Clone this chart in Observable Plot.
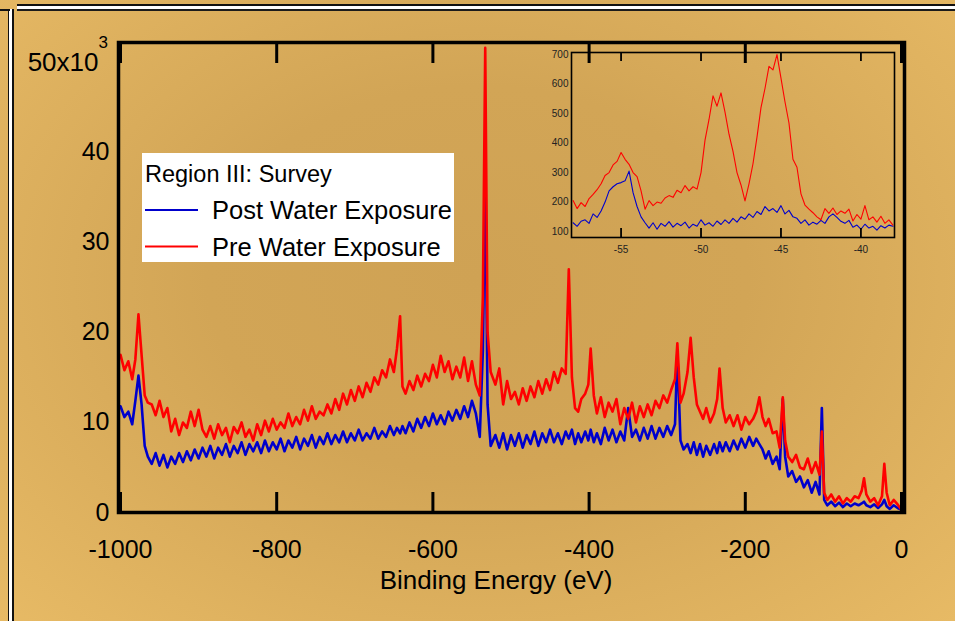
<!DOCTYPE html>
<html><head><meta charset="utf-8">
<script src="https://cdn.jsdelivr.net/npm/d3@7"></script>
<script src="https://cdn.jsdelivr.net/npm/@observablehq/plot@0.6"></script>
<style>
html,body{margin:0;padding:0;background:#d8ab5a;}
#stage{position:relative;width:955px;height:621px;overflow:hidden;
  background: radial-gradient(ellipse farthest-corner at 50% 45%, #cfa254 0%, #d2a556 40%, #e7ba65 100%);
  font-family:"Liberation Sans", Arial, sans-serif;}
#stage > svg, #stage > figure{position:absolute;left:0;top:0;margin:0;}
.topline{position:absolute;left:17px;right:0;top:4px;height:3px;background:#fff;border-top:2px solid #111;border-bottom:2px solid #1b1b1b;}
.leftline{position:absolute;left:8px;top:9px;bottom:0;width:3px;background:#fff;border-left:1.5px solid #111;border-right:2px solid #111;}
.leftcap{position:absolute;left:0;top:9px;width:10px;height:2px;background:#111;}
#legend{position:absolute;left:142px;top:153px;width:312px;height:109px;background:#fff;}
#legend svg{position:absolute;left:0;top:0;}
</style>
</head><body>
<div id="stage">
  <div class="topline"></div>
  <div class="leftline"></div>
  <div class="leftcap"></div>
</div>
<script>
// ---------- data (main survey, values in thousands of counts) ----------
const energy = [
  -1000,-995,-990,-985,-981,-977,-973,-969,-965,-960,
  -955,-950,-945,-940,-935,-930,-925,-920,-915,-910,
  -905,-900,-895,-890,-885,-880,-875,-870,-865,-860,
  -855,-850,-845,-840,-835,-830,-825,-820,-815,-810,
  -805,-800,-795,-790,-785,-780,-775,-770,-765,-760,
  -755,-750,-745,-740,-735,-730,-725,-720,-715,-710,
  -705,-700,-695,-690,-685,-680,-675,-670,-665,-660,
  -655,-650,-646,-642,-639,-635,-630,-625,-620,-615,
  -610,-605,-600,-595,-590,-585,-580,-575,-570,-565,
  -560,-555,-550,-545,-540,-536,-533,-530,-526,-520,
  -515,-510,-505,-500,-495,-490,-485,-480,-475,-470,
  -465,-460,-455,-450,-445,-440,-435,-430,-426,-422,
  -418,-414,-410,-405,-401,-398,-394,-390,-385,-380,
  -375,-370,-365,-360,-355,-350,-345,-340,-335,-330,
  -325,-320,-315,-310,-305,-300,-295,-290,-287,-283,
  -279,-274,-270,-266,-262,-258,-254,-250,-245,-240,
  -236,-233,-229,-225,-220,-215,-210,-205,-200,-195,
  -190,-186,-182,-178,-174,-170,-165,-160,-156,-152,
  -149,-145,-140,-135,-130,-125,-120,-115,-110,-105,
  -102,-99,-95,-90,-85,-80,-75,-70,-65,-60,
  -55,-51,-48,-45,-40,-35,-30,-25,-22,-19,
  -15,-10,-5,0
];
const pre = [
  17.5,15.8,16.8,14.8,17.0,22.0,17.5,13.0,12.2,12.0,
  10.8,12.4,10.6,11.6,9.0,10.4,8.6,10.0,9.4,11.2,
  9.6,11.4,9.2,8.4,9.6,8.2,9.8,8.6,9.4,7.8,
  9.5,8.8,10.0,8.4,9.2,8.0,9.8,8.6,10.2,9.0,
  10.4,9.2,10.0,9.4,11.0,9.6,10.6,9.8,11.4,10.2,
  11.8,10.4,11.2,10.8,12.0,11.0,12.6,11.4,13.2,12.0,
  13.6,12.4,14.0,12.8,14.4,13.4,15.0,14.2,15.8,15.0,
  17.0,15.6,18.2,21.8,14.0,13.2,14.6,13.6,15.2,14.0,
  15.4,14.6,16.4,15.0,17.4,15.6,16.8,14.8,16.2,15.0,
  17.2,14.6,16.8,14.2,13.0,24.0,51.6,20.0,15.6,14.2,
  16.0,12.0,14.6,12.6,13.4,12.0,13.8,12.4,14.0,12.8,
  14.6,13.2,14.8,13.6,15.6,14.4,16.0,15.4,27.0,15.0,
  11.6,11.2,12.6,13.2,14.2,18.2,13.0,11.0,12.8,10.6,
  12.2,11.2,12.6,9.8,11.6,10.4,12.2,10.0,11.8,10.6,
  12.0,10.8,12.4,11.6,13.0,12.2,13.6,14.8,18.8,12.2,
  13.2,15.6,19.4,15.0,12.0,11.2,10.4,11.6,10.0,11.0,
  12.6,16.0,11.6,10.0,10.8,9.6,10.8,9.2,10.6,9.8,
  10.4,11.2,12.8,10.6,9.6,10.4,8.8,9.0,7.2,12.8,
  8.0,6.2,5.6,6.4,5.0,4.8,6.0,4.4,5.6,4.2,
  9.0,2.2,1.4,2.0,1.2,1.8,1.0,1.6,1.2,1.8,
  1.6,2.4,3.8,2.0,1.2,1.6,0.8,1.8,5.4,2.2,
  0.8,1.4,0.9,0.3
];
const post = [
  11.8,10.6,11.2,9.8,12.4,15.2,12.0,7.4,6.2,5.4,
  6.6,5.2,6.4,5.0,6.2,5.4,6.6,5.6,6.8,5.8,
  7.0,6.0,7.2,6.2,7.4,6.0,7.2,6.4,7.6,6.2,
  7.4,6.6,7.8,6.4,7.6,6.8,7.8,6.6,8.0,6.8,
  7.8,7.0,8.2,6.8,8.0,7.2,8.4,7.0,8.2,7.4,
  8.6,7.2,8.4,7.6,8.8,7.6,8.6,7.8,9.0,7.8,
  8.8,8.0,9.2,8.0,8.8,8.2,9.4,8.2,9.0,8.4,
  9.6,8.6,9.4,8.8,9.6,8.8,10.0,9.0,10.4,9.4,
  10.6,9.6,11.0,9.8,10.8,9.8,11.2,10.2,11.4,10.4,
  11.8,10.6,12.4,11.0,8.4,18.0,38.0,12.0,7.4,8.6,
  7.2,8.8,7.0,8.6,7.4,8.8,7.2,8.6,7.6,9.0,
  7.4,8.8,7.8,9.2,7.8,8.8,7.6,9.0,8.2,9.2,
  7.6,8.8,7.8,9.0,8.0,9.2,7.8,8.8,7.6,9.4,
  8.0,9.2,7.8,9.0,8.0,11.6,8.4,9.2,8.0,9.4,
  8.2,9.6,8.2,9.4,8.4,9.6,8.6,9.8,17.8,8.0,
  7.0,7.6,6.6,7.8,6.4,7.6,6.2,7.4,6.4,7.6,
  6.6,7.8,6.8,7.8,6.8,8.0,7.0,8.2,7.2,8.4,
  7.4,8.2,7.6,7.0,6.0,6.8,5.4,6.2,4.8,12.6,
  6.2,4.0,4.6,3.4,4.0,2.8,3.6,2.2,3.4,2.0,
  11.6,1.4,0.8,1.2,0.7,1.1,0.6,1.0,0.7,1.0,
  0.8,1.0,1.2,0.8,0.6,0.9,0.5,0.9,1.4,0.7,
  0.4,0.8,0.5,0.3
];

// ---------- data (inset, counts) ----------
const insetEnergy = [
  -58,-57.75,-57.5,-57.25,-57,-56.75,-56.5,-56.25,
  -56,-55.75,-55.5,-55.25,-55,-54.75,-54.5,-54.25,
  -54,-53.75,-53.5,-53.25,-53,-52.75,-52.5,-52.25,
  -52,-51.75,-51.5,-51.25,-51,-50.75,-50.5,-50.25,
  -50,-49.75,-49.5,-49.25,-49,-48.75,-48.5,-48.25,
  -48,-47.75,-47.5,-47.25,-47,-46.75,-46.5,-46.25,
  -46,-45.75,-45.5,-45.25,-45,-44.75,-44.5,-44.25,
  -44,-43.75,-43.5,-43.25,-43,-42.75,-42.5,-42.25,
  -42,-41.75,-41.5,-41.25,-41,-40.75,-40.5,-40.25,
  -40,-39.75,-39.5,-39.25,-39,-38.75,-38.5,-38.25,
  -38
];
const insetPre = [
  205,178,198,185,212,226,242,262,
  290,300,326,338,368,345,328,300,
  286,238,176,205,188,200,196,214,
  222,216,240,232,256,238,252,244,
  300,410,480,560,525,570,505,430,
  372,300,258,204,262,330,420,520,
  585,660,648,700,620,540,468,345,
  318,228,190,176,164,150,140,178,
  162,180,158,170,162,176,136,158,
  142,188,140,150,132,152,128,140,
  122
];
const insetPost = [
  130,118,135,140,128,160,148,170,
  200,238,252,262,266,272,305,232,
  185,150,130,112,130,108,128,118,
  134,115,128,120,132,112,125,118,
  140,122,130,118,136,124,140,128,
  145,132,150,142,160,148,168,158,
  185,170,178,165,188,160,172,150,
  145,128,140,122,132,125,138,128,
  150,160,148,135,128,138,115,122,
  108,125,112,118,105,120,112,122,
  118
];

// ---------- ticks, labels, series ----------
const xTicks = [-1000, -800, -600, -400, -200, 0];
const yTicks = [0, 10, 20, 30, 40];
const yTopTick = 50;
const yTopLabel = "50x10";
const yExponent = "3";
const xLabel = "Binding Energy (eV)";
const insetXTicks = [-55, -50, -45, -40];
const insetYTicks = [100, 200, 300, 400, 500, 600, 700];
const legendTitle = "Region III: Survey";
const seriesNames = ["Post Water Exposure", "Pre Water Exposure"];
const seriesColors = ["#0000cc", "#ff0000"];

const font = "'Liberation Sans', Arial, sans-serif";
const stage = document.getElementById("stage");

const mainPlot = Plot.plot({
  width: 955, height: 621,
  marginLeft: 120, marginRight: 54, marginTop: 42, marginBottom: 109,
  x: {domain: [-1000, 0], label: null},
  y: {domain: [0, 52.2], label: null},
  style: {background: "transparent", overflow: "visible", fontFamily: font, color: "#000"},
  marks: [
    Plot.lineY(post, {x: energy, stroke: seriesColors[0], strokeWidth: 2.6, strokeLinejoin: "round"}),
    Plot.lineY(pre, {x: energy, stroke: seriesColors[1], strokeWidth: 2.6, strokeLinejoin: "round"}),
    Plot.frame({stroke: "#000", strokeWidth: 3.5, insetLeft: -2, insetRight: -3}),
    Plot.axisX(xTicks, {anchor: "bottom", tickSize: 20, dy: -20, fill: "none", strokeWidth: 3, label: null}),
    Plot.axisX(xTicks, {anchor: "top", tickSize: 20, dy: 20, fill: "none", strokeWidth: 3, label: null}),
    Plot.axisX(xTicks, {anchor: "bottom", tickSize: 0, tickPadding: 28, fontSize: 25, tickFormat: d => String(d), label: null}),
    Plot.axisY(yTicks, {anchor: "left", tickSize: 0, tickPadding: 11, fontSize: 25, tickFormat: d => String(d), label: null}),
    Plot.text([yTopTick], {y: d => d, frameAnchor: "left", text: () => yTopLabel,
      textAnchor: "end", lineAnchor: "middle", dx: -22, fontSize: 26}),
    Plot.text([yTopTick], {y: d => d, frameAnchor: "left", text: () => yExponent,
      textAnchor: "start", lineAnchor: "middle", dx: -22, dy: -20, fontSize: 17}),
    Plot.text([xLabel], {frameAnchor: "bottom", text: d => d, lineAnchor: "middle", dx: -15, dy: 68, fontSize: 26})
  ]
});
stage.appendChild(mainPlot);

const insetPlot = Plot.plot({
  width: 955, height: 621,
  marginLeft: 571, marginRight: 61, marginTop: 52, marginBottom: 384,
  x: {domain: [-58.1, -37.9], label: null},
  y: {domain: [80, 707], label: null},
  style: {background: "transparent", overflow: "visible", fontFamily: font, color: "#000"},
  marks: [
    Plot.lineY(insetPost, {x: insetEnergy, stroke: seriesColors[0], strokeWidth: 1.1}),
    Plot.lineY(insetPre, {x: insetEnergy, stroke: seriesColors[1], strokeWidth: 1.1}),
    Plot.frame({stroke: "#000", strokeWidth: 1.6}),
    Plot.axisX(insetXTicks, {anchor: "bottom", tickSize: 9, dy: -9, fill: "none", strokeWidth: 1.8, label: null}),
    Plot.axisX(insetXTicks, {anchor: "top", tickSize: 8, dy: 8, fill: "none", strokeWidth: 1.8, label: null}),
    Plot.axisX(insetXTicks, {anchor: "bottom", tickSize: 0, tickPadding: 8, fontSize: 10, fill: "#222",
      tickFormat: d => String(d), label: null}),
    Plot.axisY(insetYTicks, {anchor: "left", tickSize: 0, tickPadding: 3, fontSize: 10, fill: "#222", label: null})
  ]
});
stage.appendChild(insetPlot);

// ---------- legend ----------
const legend = document.createElement("div");
legend.id = "legend";
const ns = "http://www.w3.org/2000/svg";
const lsvg = document.createElementNS(ns, "svg");
lsvg.setAttribute("width", 312); lsvg.setAttribute("height", 109);
lsvg.style.fontFamily = font;
function addText(x, y, size, str) {
  const t = document.createElementNS(ns, "text");
  t.setAttribute("x", x); t.setAttribute("y", y);
  t.setAttribute("font-size", size); t.setAttribute("fill", "#000");
  t.textContent = str; lsvg.appendChild(t);
}
addText(3, 29, 23.5, legendTitle);
seriesNames.forEach((name, i) => {
  const ly = 57 + i * 36.5;
  const ln = document.createElementNS(ns, "line");
  ln.setAttribute("x1", 3); ln.setAttribute("x2", 56);
  ln.setAttribute("y1", ly); ln.setAttribute("y2", ly);
  ln.setAttribute("stroke", seriesColors[i]); ln.setAttribute("stroke-width", 1.8);
  lsvg.appendChild(ln);
  addText(70, 66 + i * 37, 25.5, name);
});
legend.appendChild(lsvg);
stage.appendChild(legend);
</script>
</body></html>
